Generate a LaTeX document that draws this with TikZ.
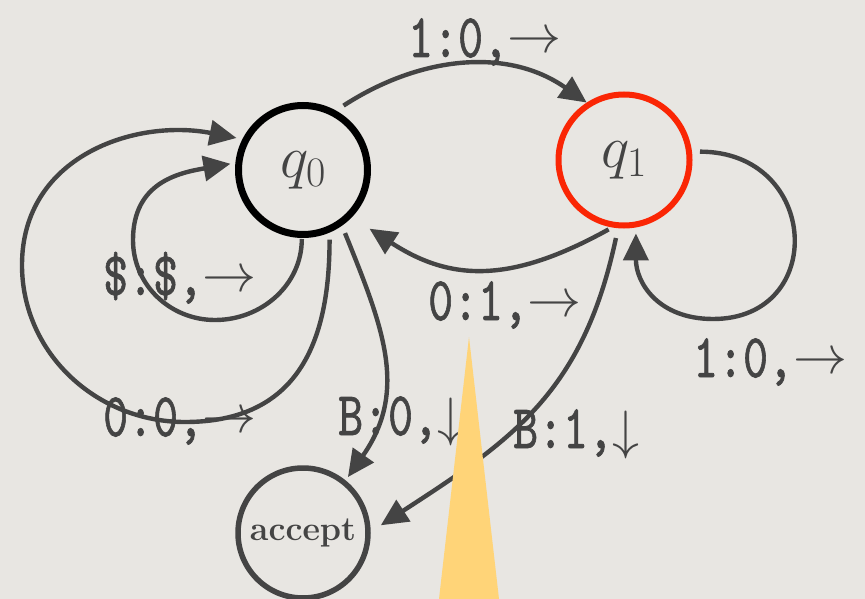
\RequirePackage{fix-cm}
\documentclass[tikz,border=0pt]{standalone}
\usepackage{fontspec}
\setmonofont{lmmono10-regular.otf}[FakeBold=1.2]
\usetikzlibrary{arrows.meta}
\definecolor{paper}{RGB}{232,230,226}
\definecolor{ink}{RGB}{68,68,68}
\definecolor{hot}{RGB}{250,38,5}
\definecolor{cone}{RGB}{255,212,120}
\newcommand{\tape}[1]{\scalebox{0.88}[1.15]{#1}}
\newcommand{\goright}{\raisebox{4pt}{$\rightarrow$}}
\newcommand{\godown}{$\downarrow$}
\begin{document}
\begin{tikzpicture}[x=1pt,y=1pt,
  state/.style={circle,inner sep=0pt,text=ink,font=\fontsize{60}{60}\selectfont},
  edge/.style={ink,line width=4.4pt,-{Triangle[length=27pt,width=25pt]}},
  lab/.style={anchor=base west,inner sep=0pt,text=ink,
    font=\fontsize{54}{54}\selectfont\ttfamily}]
  \useasboundingbox (0,0) rectangle (865,-599);
  \fill[paper] (0,0) rectangle (865,-599);
  \node[state,draw=black,line width=7pt,minimum size=129pt] (q0) at (303,-170) {$q_0$};
  \node[state,draw=hot,line width=6pt,minimum size=131pt] (q1) at (624,-160) {$q_1$};
  \node[state,draw=ink,line width=5.5pt,minimum size=130pt,
    font=\fontsize{34}{34}\selectfont\bfseries] (acc) at (303,-533) {accept};
  % q0 -> q1 over the top
  \draw[edge,shorten <=9pt] (q0.61) to[out=33,in=145] (q1.123);
  \node[lab] (l10) at (408,-57) {\tape{1:0,}\goright};
  % q1 -> q0 underneath
  \draw[edge,shorten <=4pt,shorten >=21pt]
    (q1.260) to[out=209,in=-33,looseness=1.15] (q0.-44);
  \node[lab] (l01) at (428,-320) {\tape{0:1,}\goright};
  % loop on q1
  \coordinate (q1b) at (713,-319);
  \draw[edge,shorten <=8pt,shorten >=6pt]
    (q1.7) .. controls +(128,0) and +(115,0) .. (q1b)
           .. controls +(-55,0) and +(0,-55) .. (q1.-80);
  \node[lab] (l11) at (693,-377) {\tape{1:0,}\goright};
  % halting edges
  \draw[edge,shorten <=10pt,shorten >=12pt]
    (q1.265) to[out=258,in=33,looseness=1.1] (acc.1);
  \node[lab] (lb1) at (513,-448) {\tape{B:1,}\godown};
  \draw[edge,shorten <=8pt,shorten >=4pt]
    (q0.-55) to[out=-68,in=55,looseness=1.1] (acc.51);
  \node[lab] (lb0) at (338,-435) {\tape{B:0,}\godown};
  % inner loop on q0
  \coordinate (q0in) at (215,-320);
  \coordinate (q0inw) at (133,-240);
  \draw[edge,shorten <=1pt,shorten >=5pt]
    (q0.269) to[out=-90,in=0] (q0in) to[out=180,in=-90] (q0inw)
    to[out=90,in=190,looseness=1.15] (q0.174);
  \node[lab] (lss) at (103,-295) {\tape{\$:\$,}\goright};
  % outer loop on q0
  \coordinate (q0out) at (185,-422);
  \coordinate (q0outw) at (22,-265);
  \draw[edge,shorten <=7pt,shorten >=6pt]
    (q0.-67) to[out=-90,in=0,looseness=1.2] (q0out) to[out=180,in=-90] (q0outw)
    to[out=90,in=169,looseness=1.1] (q0.153);
  \node[lab] (l00) at (103,-436) {\tape{0:0,}\goright};
  % pointer wedge on top
  \fill[cone] (469,-337) -- (499,-599) -- (439,-599) -- cycle;
\end{tikzpicture}
\end{document}
